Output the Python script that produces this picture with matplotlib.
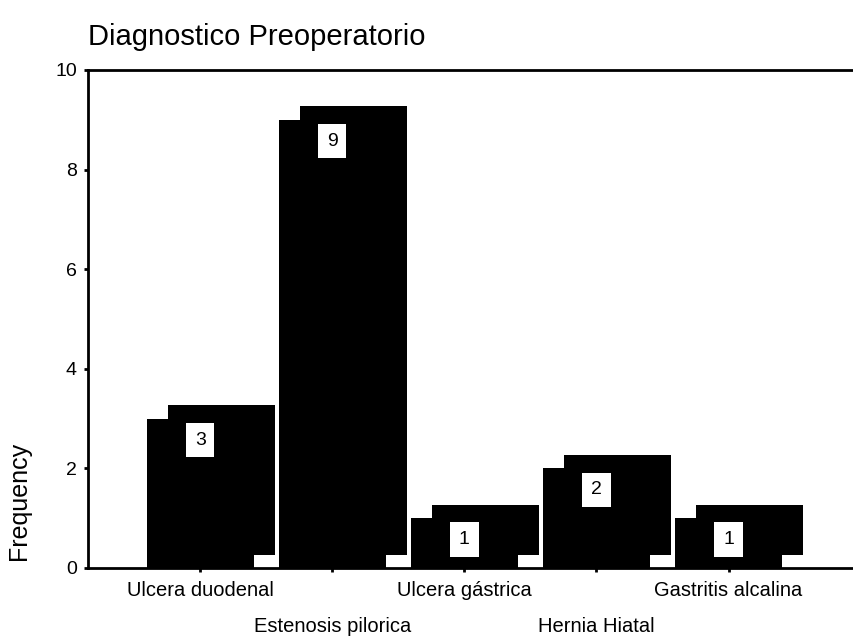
import matplotlib.pyplot as plt
from matplotlib.patches import Rectangle

plt.rcParams['font.family'] = ['Liberation Sans', 'DejaVu Sans']

categories = ['Ulcera duodenal', 'Estenosis pilorica', 'Ulcera gástrica',
              'Hernia Hiatal', 'Gastritis alcalina']
counts = [3, 9, 1, 2, 1]

bar_w = 0.81
dx, dy = 0.16, 0.27   # offset of the shadow block behind each bar

fig = plt.figure(figsize=(8.54, 6.4), dpi=100)
ax = fig.add_axes([88 / 854, 72 / 640, 1 - 88 / 854, 498 / 640])

x = list(range(len(categories)))
for i, v in zip(x, counts):
    # back block, shifted right and up
    ax.add_patch(Rectangle((i - bar_w / 2 + dx, dy), bar_w, v, facecolor='black',
                           edgecolor='none', zorder=2))
    ax.bar(i, v, width=bar_w, color='black', zorder=3)
    ax.text(i, v - 0.43, str(v), ha='center', va='center', fontsize=14, zorder=4,
            bbox=dict(boxstyle='square,pad=0.45', facecolor='white', edgecolor='none'))

ax.set_xlim(-0.85, 4.95)
ax.set_ylim(0, 10)
ax.set_yticks([0, 2, 4, 6, 8, 10])
ax.tick_params(axis='y', labelsize=14, length=3, width=2, pad=5)

ax.set_xticks(x[::2], categories[::2])
ax.set_xticks(x[1::2], categories[1::2], minor=True)
ax.tick_params(axis='x', which='both', labelsize=14.5, length=3, width=2)
ax.tick_params(axis='x', which='major', pad=6)
ax.tick_params(axis='x', which='minor', pad=32)

for s in ['left', 'bottom', 'top']:
    ax.spines[s].set_linewidth(2)
ax.spines['right'].set_visible(False)

fig.text(88 / 854, 1 - 45 / 640, 'Diagnostico Preoperatorio', fontsize=21,
         ha='left', va='baseline')
fig.text(19 / 854, 1 - 501 / 640, 'Frequency', fontsize=18, rotation=90,
         ha='center', va='center')

fig.savefig('out.png', dpi=100)
